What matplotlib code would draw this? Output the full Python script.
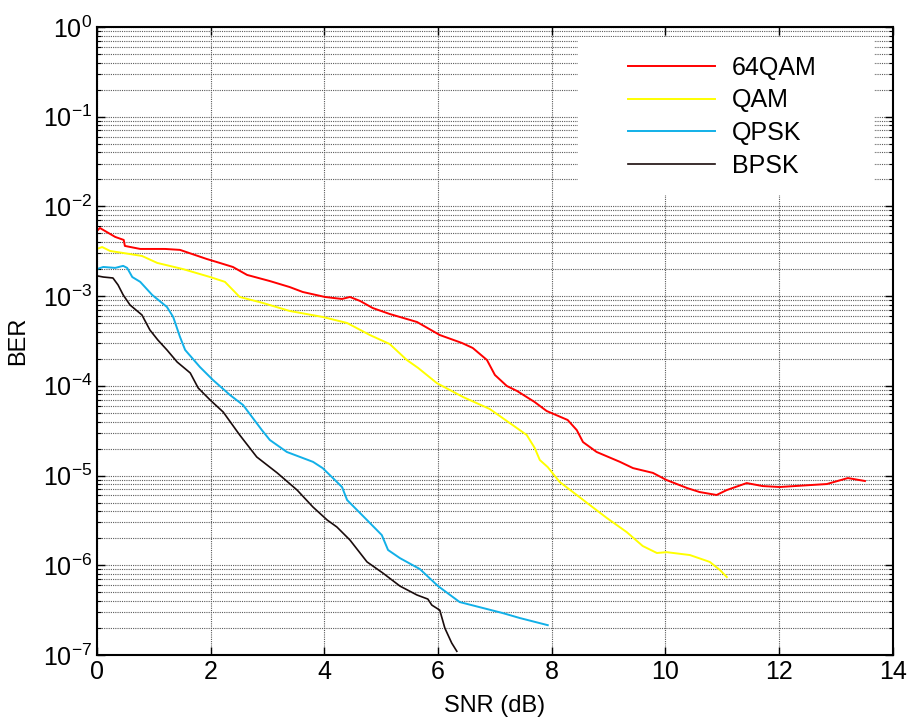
import numpy as np
import matplotlib
matplotlib.use('Agg')
import matplotlib.pyplot as plt
from matplotlib.patches import Rectangle

plt.rcParams['font.family'] = ['Liberation Sans', 'DejaVu Sans']

# 64QAM
snr_64qam = [0.0, 0.05, 0.32, 0.47, 0.49, 0.76, 1.20, 1.46, 1.93, 2.16, 2.39, 2.64, 3.04,
             3.39, 3.62, 4.01, 4.31, 4.45, 4.63, 4.85, 5.15, 5.63, 6.03, 6.42, 6.61, 6.86,
             7.00, 7.21, 7.39, 7.70, 7.91, 8.28, 8.44, 8.55, 8.79, 9.20, 9.43, 9.78, 10.02,
             10.38, 10.60, 10.90, 11.08, 11.43, 11.71, 12.01, 12.84, 13.21, 13.51]
ber_64qam = [5.32e-3, 5.74e-3, 4.56e-3, 4.22e-3, 3.62e-3, 3.35e-3, 3.35e-3, 3.27e-3, 2.59e-3,
             2.34e-3, 2.11e-3, 1.72e-3, 1.47e-3, 1.26e-3, 1.11e-3, 9.77e-4, 9.28e-4, 9.77e-4,
             8.81e-4, 7.36e-4, 6.31e-4, 5.14e-4, 3.68e-4, 3.00e-4, 2.64e-4, 1.94e-4, 1.32e-4,
             9.95e-5, 8.75e-5, 6.59e-5, 5.24e-5, 4.16e-5, 3.21e-5, 2.36e-5, 1.83e-5, 1.42e-5,
             1.21e-5, 1.07e-5, 8.91e-6, 7.26e-6, 6.55e-6, 6.07e-6, 6.89e-6, 8.24e-6, 7.63e-6,
             7.45e-6, 8.04e-6, 9.37e-6, 8.69e-6]

# QAM
snr_qam = [0.0, 0.09, 0.23, 0.46, 0.79, 1.06, 1.51, 1.99, 2.25, 2.51, 2.92, 3.39, 3.97,
           4.40, 4.80, 5.15, 5.45, 5.65, 5.98, 6.44, 6.91, 7.26, 7.56, 7.70, 7.79, 7.93,
           8.14, 8.44, 8.67, 8.97, 9.32, 9.60, 9.85, 10.02, 10.43, 10.78, 10.96, 11.08]
ber_qam = [3.35e-3, 3.52e-3, 3.18e-3, 3.02e-3, 2.80e-3, 2.34e-3, 2.00e-3, 1.63e-3, 1.44e-3,
           9.77e-4, 8.37e-4, 6.82e-4, 5.85e-4, 5.01e-4, 3.68e-4, 2.92e-4, 1.94e-4, 1.58e-4,
           1.07e-4, 7.50e-5, 5.51e-5, 3.85e-5, 2.83e-5, 2.03e-5, 1.49e-5, 1.24e-5, 8.47e-6,
           6.07e-6, 4.69e-6, 3.36e-6, 2.34e-6, 1.64e-6, 1.37e-6, 1.40e-6, 1.30e-6, 1.09e-6,
           8.84e-7, 7.39e-7]

# QPSK
snr_qpsk = [0.0, 0.11, 0.32, 0.46, 0.53, 0.62, 0.76, 0.97, 1.23, 1.34, 1.46, 1.55, 1.81,
            2.04, 2.34, 2.57, 2.90, 3.04, 3.34, 3.80, 3.97, 4.15, 4.31, 4.40, 4.75, 5.01,
            5.12, 5.33, 5.68, 6.00, 6.38, 7.14, 7.44, 7.93]
ber_qpsk = [2.00e-3, 2.11e-3, 2.06e-3, 2.17e-3, 2.06e-3, 1.63e-3, 1.44e-3, 1.03e-3, 7.56e-4,
            5.85e-4, 3.50e-4, 2.51e-4, 1.62e-4, 1.16e-4, 7.89e-5, 6.10e-5, 3.21e-5, 2.49e-5,
            1.83e-5, 1.42e-5, 1.21e-5, 9.37e-6, 7.45e-6, 5.33e-6, 3.19e-6, 2.17e-6, 1.48e-6,
            1.20e-6, 9.07e-7, 5.86e-7, 3.89e-7, 2.93e-7, 2.58e-7, 2.15e-7]

# BPSK
snr_bpsk = [0.0, 0.11, 0.28, 0.37, 0.46, 0.58, 0.79, 0.93, 1.07, 1.23, 1.41, 1.64, 1.78,
            1.99, 2.22, 2.51, 2.81, 3.17, 3.52, 3.80, 4.05, 4.22, 4.45, 4.75, 5.03, 5.33,
            5.63, 5.82, 5.89, 6.03, 6.12, 6.24, 6.33]
ber_bpsk = [1.68e-3, 1.63e-3, 1.59e-3, 1.33e-3, 1.03e-3, 7.96e-4, 6.16e-4, 4.19e-4, 3.24e-4,
            2.51e-4, 1.84e-4, 1.39e-4, 9.45e-5, 6.95e-5, 5.10e-5, 2.83e-5, 1.61e-5, 1.07e-5,
            6.89e-6, 4.45e-6, 3.19e-6, 2.67e-6, 1.91e-6, 1.09e-6, 8.18e-7, 5.86e-7, 4.66e-7,
            4.20e-7, 3.60e-7, 3.16e-7, 1.99e-7, 1.36e-7, 1.10e-7]

fig = plt.figure(figsize=(9.11, 7.26), dpi=100)
ax = fig.add_axes([0.1065, 0.0978, 0.8735, 0.8652])

ax.semilogy(snr_64qam, ber_64qam, color='#ff0000', lw=1.4, label='64QAM')
ax.semilogy(snr_qam, ber_qam, color='#ffff00', lw=1.4, label='QAM')
ax.semilogy(snr_qpsk, ber_qpsk, color='#12b0e8', lw=1.4, label='QPSK')
ax.semilogy(snr_bpsk, ber_bpsk, color='#1a0c0c', lw=1.2, label='BPSK')

ax.set_xlim(0, 14)
ax.set_ylim(1e-7, 1)
ax.set_xticks(np.arange(0, 15, 2))
ax.set_yticks([10.0 ** k for k in range(-7, 1)])

# MATLAB style grid
ax.set_axisbelow(True)
ax.grid(True, which='major', axis='both', linestyle=(0, (1, 1)), color='#5a5a5a', lw=0.8)
ax.grid(True, which='minor', axis='y', linestyle=(0, (1, 1)), color='#5a5a5a', lw=0.8)

ax.tick_params(which='both', direction='in', top=True, right=True, labelsize=18)
ax.tick_params(which='major', length=6, width=1)
ax.tick_params(which='minor', length=3, width=0.8)
for s in ax.spines.values():
    s.set_linewidth(1.5)

ax.set_xlabel('SNR (dB)', fontsize=17, labelpad=8)
ax.set_ylabel('BER', fontsize=17, labelpad=10)

# white legend box without border
ax.add_patch(Rectangle((0.604, 0.732), 0.373, 0.252, transform=ax.transAxes,
                       facecolor='white', edgecolor='none', zorder=3))
ax.legend(loc='center left', bbox_to_anchor=(0.667, 0.857), frameon=False,
          fontsize=18, borderpad=0, borderaxespad=0, handlelength=3.5,
          handletextpad=0.65, labelspacing=0.35).set_zorder(5)

fig.savefig('out.png', dpi=100)
